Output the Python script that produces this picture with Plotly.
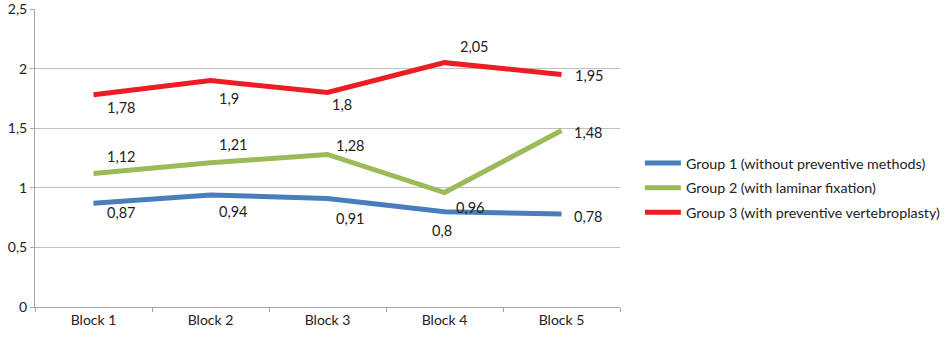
import plotly.graph_objects as go

categories = ["Block 1", "Block 2", "Block 3", "Block 4", "Block 5"]
group1 = [0.87, 0.94, 0.91, 0.80, 0.78]
group2 = [1.12, 1.21, 1.28, 0.96, 1.48]
group3 = [1.78, 1.90, 1.80, 2.05, 1.95]
names = ["Group 1 (without preventive methods)",
         "Group 2 (with laminar fixation)",
         "Group 3 (with preventive vertebroplasty)"]
colors = ["#4A7EBB", "#9BBB59", "#EE1C24"]
y_ticks = [0, 0.5, 1, 1.5, 2, 2.5]

# label offsets (pixels) per point
offsets = [
    [(28, 9), (23, 17), (23, 20), (-3, 19), (27, 2)],
    [(28, -17), (23, -18), (23, -9), (26, 15), (27, 2)],
    [(28, 13), (18, 18), (14, 12), (30, -16), (28, 1)],
]

FONT = "Lato, Calibri, Carlito, sans-serif"

fig = go.Figure()
annotations = []
for i, (name, vals, col, offs) in enumerate(zip(names, [group1, group2, group3], colors, offsets)):
    fig.add_trace(go.Scatter(x=categories, y=vals, mode="lines", name=name,
                             legendgroup=f"g{i}",
                             line=dict(color=col, width=5)))
    for c, v, (dx, dy) in zip(categories, vals, offs):
        annotations.append(dict(x=c, y=v, xref="x", yref="y",
                                text=f"{v:g}".replace(".", ","), showarrow=False,
                                xshift=dx, yshift=-dy,
                                font=dict(family=FONT, size=14.5, color="#222")))

fig.update_layout(
    width=945, height=337,
    margin=dict(l=35, r=325, t=9, b=30, autoexpand=False),
    paper_bgcolor="white", plot_bgcolor="white",
    separators=",.",
    font=dict(family=FONT, size=14, color="#222"),
    annotations=annotations,
    showlegend=True,
    legend=dict(x=1.034, y=0.4, xanchor="left", yanchor="middle",
                xref="paper", yref="paper",
                font=dict(family=FONT, size=14.3, color="#222"),
                tracegroupgap=3, itemwidth=36, bgcolor="rgba(0,0,0,0)"),
    xaxis=dict(showgrid=False, showline=True, linecolor="#A6A6A6", linewidth=1,
               ticks="outside", ticklen=4, tickcolor="#A6A6A6",
               tickson="boundaries", range=[-0.5, 4.5], automargin=False,
               tickfont=dict(size=14)),
    yaxis=dict(range=[0, 2.5], tickmode="array", tickvals=y_ticks,
               ticktext=[f"{t:g}".replace(".", ",") for t in y_ticks],
               ticklabeloverflow="allow",
               showgrid=True, gridcolor="#BFBFBF",
               gridwidth=1, showline=True, linecolor="#A6A6A6", zeroline=False,
               ticks="outside", ticklen=4, tickcolor="#A6A6A6", automargin=False,
               tickfont=dict(size=14)),
)

fig.write_html("out.html", config={"displayModeBar": False},
               post_script="document.body.style.margin='0';document.body.style.overflow='hidden';")
